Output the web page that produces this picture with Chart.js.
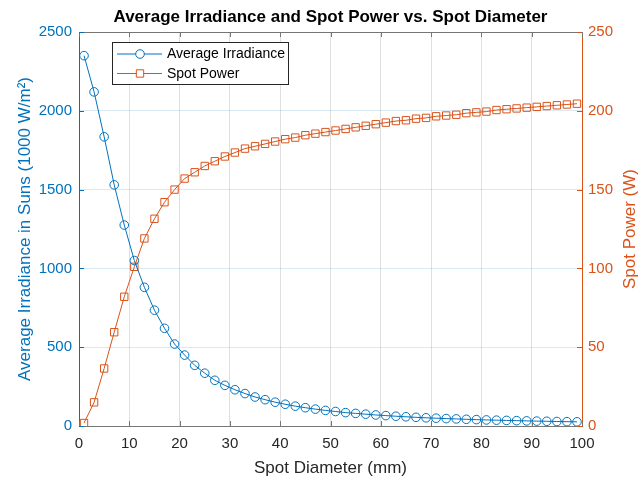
<!DOCTYPE html>
<html>
<head>
<meta charset="utf-8">
<script src="https://cdn.jsdelivr.net/npm/chart.js@4.4.0/dist/chart.umd.min.js"></script>
<style>
html, body { margin: 0; padding: 0; background: #fff; }
#wrap { width: 639px; height: 477px; }
</style>
</head>
<body>
<div id="wrap"><canvas id="myChart" width="639" height="477"></canvas></div>
<script>
// Dados
const diameters = [1, 3, 5, 7, 9, 11, 13, 15, 17, 19, 21, 23, 25, 27, 29, 31, 33, 35, 37, 39,
                   41, 43, 45, 47, 49, 51, 53, 55, 57, 59, 61, 63, 65, 67, 69, 71, 73, 75, 77, 79,
                   81, 83, 85, 87, 89, 91, 93, 95, 97, 99];
const avgIrradiance = [2350, 2120, 1835, 1530, 1275, 1050, 880, 735, 620, 520,
                       450, 385, 335, 290, 258, 230, 206, 184, 167, 151,
                       138, 126, 116, 107, 99, 92, 85, 80, 75, 70,
                       66, 62, 58.5, 55, 52, 49.5, 47, 45, 42.5, 40.5,
                       38.5, 37, 35.5, 34, 32.5, 31, 30, 28.5, 27.5, 26.5];
const spotPower = [1.9, 15, 36.5, 59.5, 82, 101, 119, 131.5, 142, 150,
                   157, 161, 165, 168, 171, 173.5, 176, 177.5, 179, 180.5,
                   182, 183, 184.5, 185.5, 186.5, 187.5, 188.5, 189.5, 190.5, 191.5,
                   192.5, 193.5, 194, 195, 195.5, 196.5, 197, 197.5, 198.5, 199,
                   199.5, 200.5, 201, 201.5, 202, 202.5, 203, 203.5, 204, 204.5];
const xTicks = [0, 10, 20, 30, 40, 50, 60, 70, 80, 90, 100];
const leftTicks = [0, 500, 1000, 1500, 2000, 2500];
const rightTicks = [0, 50, 100, 150, 200, 250];

const BLUE = '#0072BD';
const ORANGE = '#D95319';
const DARK = '#262626';
const AXIS_GRAY = '#767676';
const FONT = "'Liberation Sans', Arial, Helvetica, sans-serif";

// Ticks internos, borda superior, título direito e legenda
const decorPlugin = {
    id: 'decor',
    afterDraw(chart) {
        const ctx = chart.ctx;
        const a = chart.chartArea;
        const sx = chart.scales.x, sl = chart.scales.y, sr = chart.scales.y1;
        const tl = 5;
        ctx.save();
        ctx.lineWidth = 1;

        // borda superior
        ctx.strokeStyle = AXIS_GRAY;
        ctx.beginPath();
        ctx.moveTo(a.left, Math.round(a.top) + 0.5);
        ctx.lineTo(a.right, Math.round(a.top) + 0.5);
        ctx.stroke();

        // ticks do eixo x (baixo e cima)
        ctx.beginPath();
        xTicks.forEach(v => {
            const px = Math.round(sx.getPixelForValue(v)) + 0.5;
            ctx.moveTo(px, a.bottom);
            ctx.lineTo(px, a.bottom - tl);
            ctx.moveTo(px, a.top);
            ctx.lineTo(px, a.top + tl);
        });
        ctx.stroke();

        // ticks esquerdo
        ctx.strokeStyle = BLUE;
        ctx.beginPath();
        leftTicks.forEach(v => {
            const py = Math.round(sl.getPixelForValue(v)) + 0.5;
            ctx.moveTo(a.left, py);
            ctx.lineTo(a.left + tl, py);
        });
        ctx.stroke();

        // ticks direito
        ctx.strokeStyle = ORANGE;
        ctx.beginPath();
        rightTicks.forEach(v => {
            const py = Math.round(sr.getPixelForValue(v)) + 0.5;
            ctx.moveTo(a.right, py);
            ctx.lineTo(a.right - tl, py);
        });
        ctx.stroke();

        // título do eixo direito (lido de baixo para cima)
        ctx.save();
        ctx.translate(630, (a.top + a.bottom) / 2);
        ctx.rotate(-Math.PI / 2);
        ctx.fillStyle = ORANGE;
        ctx.font = '17px ' + FONT;
        ctx.textAlign = 'center';
        ctx.textBaseline = 'middle';
        ctx.fillText('Spot Power (W)', 0, 0);
        ctx.restore();

        // legenda
        const box = {x: 112, y: 42, w: 176, h: 42};
        ctx.fillStyle = '#fff';
        ctx.fillRect(box.x, box.y, box.w, box.h);
        ctx.strokeStyle = DARK;
        ctx.strokeRect(box.x + 0.5, box.y + 0.5, box.w, box.h);
        ctx.font = '14px ' + FONT;
        ctx.textBaseline = 'middle';
        ctx.textAlign = 'left';
        chart.data.datasets.forEach((ds, i) => {
            const cy = 54 + i * 19.5;
            ctx.strokeStyle = ds.borderColor;
            ctx.beginPath();
            ctx.moveTo(117, cy);
            ctx.lineTo(162, cy);
            ctx.stroke();
            ctx.fillStyle = '#fff';
            ctx.beginPath();
            if (ds.pointStyle === 'rect') {
                const s = ds.pointRadius * Math.SQRT1_2;
                ctx.rect(140 - s, cy - s, 2 * s, 2 * s);
            } else {
                ctx.arc(140, cy, ds.pointRadius, 0, Math.PI * 2);
            }
            ctx.fill();
            ctx.stroke();
            ctx.fillStyle = '#000';
            ctx.fillText(ds.label, 167, cy + 0.5);
        });
        ctx.restore();
    }
};

const plainLabel = v => String(v);

const ctx = document.getElementById('myChart');
new Chart(ctx, {
    type: 'line',
    data: {
        datasets: [{
            label: 'Average Irradiance',
            data: diameters.map((d, i) => ({x: d, y: avgIrradiance[i]})),
            yAxisID: 'y',
            borderColor: BLUE,
            backgroundColor: 'rgba(0,0,0,0)',
            borderWidth: 1,
            pointStyle: 'circle',
            pointRadius: 4.3,
            pointBorderWidth: 1,
            pointBorderColor: BLUE,
            pointBackgroundColor: 'rgba(0,0,0,0)',
            tension: 0,
            fill: false
        }, {
            label: 'Spot Power',
            data: diameters.map((d, i) => ({x: d, y: spotPower[i]})),
            yAxisID: 'y1',
            borderColor: ORANGE,
            backgroundColor: 'rgba(0,0,0,0)',
            borderWidth: 1,
            pointStyle: 'rect',
            pointRadius: 5.2,
            pointBorderWidth: 1,
            pointBorderColor: ORANGE,
            pointBackgroundColor: 'rgba(0,0,0,0)',
            tension: 0,
            fill: false
        }]
    },
    options: {
        responsive: false,
        animation: false,
        devicePixelRatio: 1,
        layout: { padding: 0 },
        plugins: {
            legend: { display: false },
            tooltip: { enabled: false },
            title: {
                display: true,
                text: 'Average Irradiance and Spot Power vs. Spot Diameter',
                color: '#000',
                fullSize: false,
                font: { family: FONT, size: 17, weight: 'bold', lineHeight: 1 },
                padding: { top: 9, bottom: 6 }
            }
        },
        scales: {
            x: {
                type: 'linear',
                min: 0,
                max: 100,
                afterBuildTicks: s => { s.ticks = xTicks.map(v => ({value: v})); },
                afterFit: s => { s.height = 51; },
                ticks: { color: DARK, font: { family: FONT, size: 15 }, padding: 9, maxRotation: 0, callback: plainLabel },
                grid: { color: 'rgba(38,38,38,0.15)', drawTicks: false },
                border: { color: AXIS_GRAY, width: 1 },
                title: {
                    display: true,
                    text: 'Spot Diameter (mm)',
                    color: DARK,
                    font: { family: FONT, size: 17, lineHeight: 1 },
                    padding: { top: 5, bottom: 0 }
                }
            },
            y: {
                type: 'linear',
                position: 'left',
                min: 0,
                max: 2500,
                afterBuildTicks: s => { s.ticks = leftTicks.map(v => ({value: v})); },
                afterFit: s => { s.width = 79; },
                ticks: { color: BLUE, font: { family: FONT, size: 15 }, padding: 7, callback: plainLabel },
                grid: { color: 'rgba(0,114,189,0.15)', drawTicks: false },
                border: { color: BLUE, width: 1 },
                title: {
                    display: true,
                    text: 'Average Irradiance in Suns (1000 W/m²)',
                    color: BLUE,
                    font: { family: FONT, size: 17, lineHeight: 1 },
                    padding: { top: 17, bottom: 0 }
                }
            },
            y1: {
                type: 'linear',
                position: 'right',
                min: 0,
                max: 250,
                afterBuildTicks: s => { s.ticks = rightTicks.map(v => ({value: v})); },
                afterFit: s => { s.width = 57; },
                ticks: { color: ORANGE, font: { family: FONT, size: 15 }, padding: 6, callback: plainLabel },
                grid: { drawOnChartArea: false, drawTicks: false },
                border: { color: ORANGE, width: 1 }
            }
        }
    },
    plugins: [decorPlugin]
});
</script>
</body>
</html>
